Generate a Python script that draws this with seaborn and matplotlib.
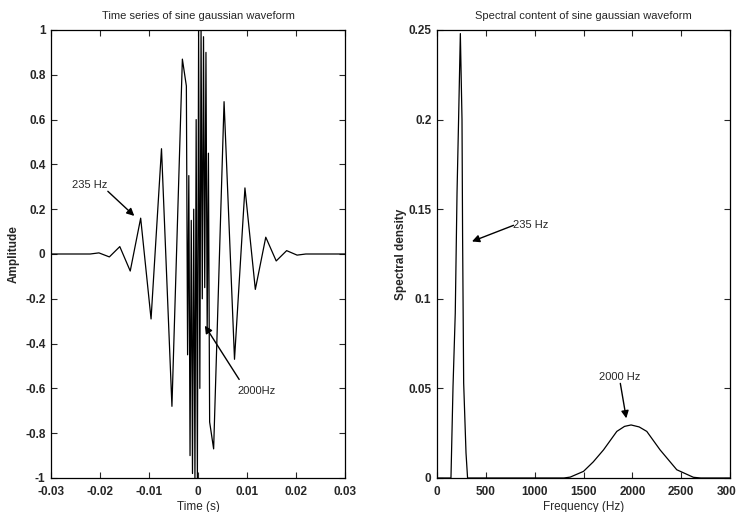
import matplotlib
matplotlib.use("Agg")
import matplotlib.pyplot as plt
import seaborn as sns
import pandas as pd

# ---- Time series (vertices), seconds / amplitude ----
time_s = [-0.0300, -0.0220, -0.02022, -0.01809, -0.01596, -0.01383, -0.01170,
          -0.00958, -0.00745, -0.00532, -0.00319,
          -0.002375, -0.002125, -0.001875, -0.001625, -0.001375, -0.001125,
          -0.000875, -0.000625, -0.000375, -0.000125,
          0.000125, 0.000375, 0.000625, 0.000875, 0.001125, 0.001375,
          0.001625, 0.001875, 0.002125, 0.002375,
          0.00319, 0.00532, 0.00745, 0.00958, 0.01170, 0.01383, 0.01596,
          0.01809, 0.02022, 0.0220, 0.0300]
amplitude = [0.0, 0.0, 0.005, -0.013, 0.033, -0.076, 0.16,
             -0.29, 0.47, -0.68, 0.87,
             0.75, -0.45, 0.35, -0.90, 0.15, -0.98,
             0.20, -1.0, 0.60, -1.0,
             1.0, -0.60, 1.0, -0.20, 0.97, -0.15,
             0.90, -0.35, 0.45, -0.75,
             -0.87, 0.68, -0.47, 0.295, -0.158, 0.075, -0.031,
             0.015, -0.005, 0.0, 0.0]

# ---- Spectrum ----
freq_hz = [0, 143, 164, 187, 205, 221, 239, 256, 262, 273, 297, 313,
           1300, 1364, 1500, 1600, 1705, 1841, 1920, 1987, 2070, 2148,
           2284, 2455, 2625, 2700, 3000]
spectral_density = [0, 0, 0.051, 0.092, 0.159, 0.200, 0.248, 0.200, 0.135,
                    0.053, 0.014, 0,
                    0, 0.0005, 0.0037, 0.009, 0.0157, 0.026, 0.0288, 0.0296,
                    0.0285, 0.026, 0.0157, 0.0046, 0.0004, 0, 0]

sns.set_style("ticks")
plt.rcParams['font.family'] = ['Liberation Sans', 'DejaVu Sans']

fig = plt.figure(figsize=(7.36, 5.12), dpi=100)
ax1 = fig.add_axes([51/736, 1-478/512, (345-51)/736, (478-30)/512])
ax2 = fig.add_axes([437/736, 1-478/512, (730-437)/736, (478-30)/512])

ts = pd.DataFrame({"t": time_s, "a": amplitude})
sp = pd.DataFrame({"f": freq_hz, "s": spectral_density})

sns.lineplot(data=ts, x="t", y="a", ax=ax1, color="black", lw=0.9,
             estimator=None, sort=False)
sns.lineplot(data=sp, x="f", y="s", ax=ax2, color="black", lw=0.9,
             estimator=None, sort=False)

tfs = 8.5
ax1.set_xlim(-0.03, 0.03)
ax1.set_ylim(-1, 1)
ax1.set_xticks([-0.03, -0.02, -0.01, 0, 0.01, 0.02, 0.03])
ax1.set_xticklabels(["-0.03", "-0.02", "-0.01", "0", "0.01", "0.02", "0.03"])
ax1.set_yticks([-1, -0.8, -0.6, -0.4, -0.2, 0, 0.2, 0.4, 0.6, 0.8, 1])
ax1.set_yticklabels(["-1", "-0.8", "-0.6", "-0.4", "-0.2", "0", "0.2", "0.4",
                     "0.6", "0.8", "1"])
ax1.set_title("Time series of sine gaussian waveform", fontsize=8, pad=8)
ax1.set_xlabel("Time (s)", fontsize=tfs, labelpad=2)
ax1.set_ylabel("Amplitude", fontsize=tfs, fontweight="bold", labelpad=4)

ax2.set_xlim(0, 3000)
ax2.set_ylim(0, 0.25)
ax2.set_xticks([0, 500, 1000, 1500, 2000, 2500, 3000])
ax2.set_yticks([0, 0.05, 0.1, 0.15, 0.2, 0.25])
ax2.set_yticklabels(["0", "0.05", "0.1", "0.15", "0.2", "0.25"])
ax2.set_title("Spectral content of sine gaussian waveform", fontsize=8, pad=8)
ax2.set_xlabel("Frequency (Hz)", fontsize=tfs, labelpad=2)
ax2.set_ylabel("Spectral density", fontsize=tfs, fontweight="bold", labelpad=1)

for ax in (ax1, ax2):
    ax.tick_params(direction="in", top=True, right=True, length=4,
                   width=0.8, labelsize=tfs, pad=4)
    ax.tick_params(axis="x", pad=6)
    for lab in ax.get_xticklabels() + ax.get_yticklabels():
        lab.set_fontweight("bold")
    for s in ax.spines.values():
        s.set_linewidth(0.9)
        s.set_color("black")

arrow = dict(arrowstyle="-|>", color="black", lw=1.0, mutation_scale=11,
             shrinkA=0, shrinkB=0)
ax1.text(-0.0222, 0.31, "235 Hz", fontsize=8, ha="center", va="center")
ax1.annotate("", xy=(-0.0130, 0.17), xytext=(-0.0184, 0.28), arrowprops=arrow)
ax1.text(0.0120, -0.61, "2000Hz", fontsize=8, ha="center", va="center")
ax1.annotate("", xy=(0.0014, -0.32), xytext=(0.0084, -0.56), arrowprops=arrow)

ax2.text(960, 0.141, "235 Hz", fontsize=8, ha="center", va="center")
ax2.annotate("", xy=(358, 0.132), xytext=(784, 0.141), arrowprops=arrow)
ax2.text(1867, 0.0564, "2000 Hz", fontsize=8, ha="center", va="center")
ax2.annotate("", xy=(1938, 0.0333), xytext=(1877, 0.0528), arrowprops=arrow)

fig.savefig("out.png", dpi=100)
